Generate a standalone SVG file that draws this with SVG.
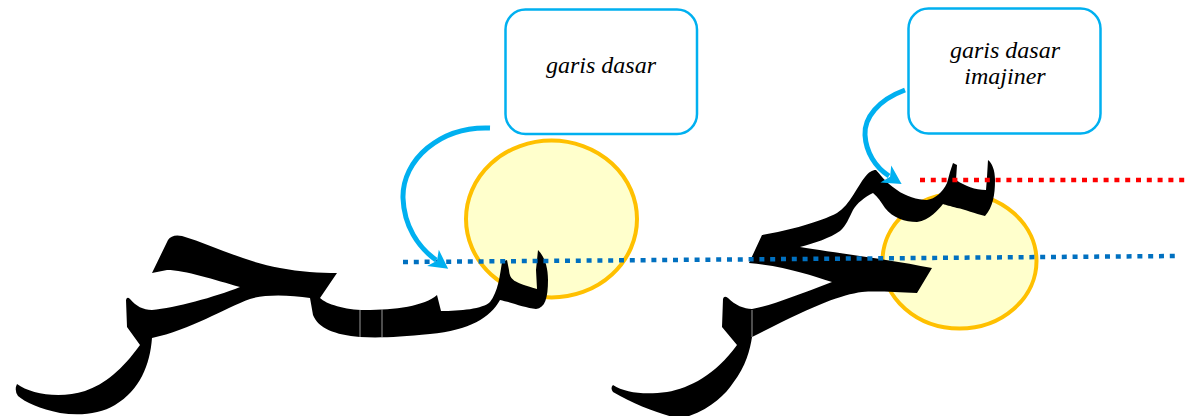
<svg xmlns="http://www.w3.org/2000/svg" width="1188" height="416" viewBox="0 0 1188 416">
<style>
.box{fill:#fff;stroke:#00B0F0;stroke-width:2.5}
.lbl{font-family:"Liberation Serif",serif;font-style:italic;font-size:24px;fill:#000;text-anchor:middle}
.halo{fill:#FFFFCC;stroke:#FFC000;stroke-width:4}
.ink{fill:#000;stroke:none}
.seam{stroke:#9a9a9a;stroke-width:1}
.arrow{fill:none;stroke:#00B0F0;stroke-width:5;marker-end:url(#head)}
.base{fill:none;stroke:#0070C0;stroke-width:4.5;stroke-dasharray:5 5.8}
.imag{fill:none;stroke:#FF0000;stroke-width:4.5;stroke-dasharray:5 5.8}
</style>
<defs>
<marker id="head" markerUnits="userSpaceOnUse" markerWidth="30" markerHeight="30" viewBox="-6 -10 24 20" refX="3" refY="0" orient="auto">
<path d="M0,-8 L15,0 L0,8 L4,0 Z" fill="#00B0F0"/>
</marker>
</defs>
<g id="ellipse-left"><ellipse class="halo" cx="551.5" cy="219" rx="85.5" ry="78.5"/></g>
<g id="ellipse-right"><ellipse class="halo" cx="959.5" cy="261" rx="77" ry="67.5"/></g>
<g id="glyph-left">
<path class="ink" d="M17,384 C30,394 60,399 85,391 C105,384 122,370 140,345 L127,327 L126,300 Q127,296 130,299 C136,306 143,310 152,310 C175,308 215,297 240,287 C215,280 185,270 167,270 L152,273 L168,240 Q172,234 182,236 C215,246 245,262 280,268 C300,272 320,273 337,273 L320,298 C326,304 345,310 365,310 C395,310 425,306 437,295 L441,311 C460,311 483,309 490,302 C498,292 500,275 502,262 L507,260 L509,270 C510,280 513,282 537,289 L536,270 L538,250 C544,256 548,266 548,280 C548,298 545,308 536,309 C525,308 510,302 500,300 C490,318 470,330 430,334 C400,337 380,338 360,337 C335,335 318,328 313,315 L310,298 C290,295 265,294 250,299 C225,308 190,330 152,338 C150,365 140,390 115,405 C100,414 80,416 60,413 C40,409 25,402 18,396 Q14,390 17,384 Z"/>
<line class="seam" x1="360" y1="310" x2="360" y2="337"/>
<line class="seam" x1="382" y1="309" x2="382" y2="337"/>
</g>
<g id="glyph-right">
<path class="ink" d="M613,385 C625,393 645,395 667,392 C690,388 715,375 737,345 L722,327 L723,299 Q724,295 728,298 C735,305 744,309 752,309 C770,306 795,296 832,282 C810,275 785,266 749,263 L762,235 C790,230 820,222 837,213 C850,205 858,185 865,177 C869,172 872,170 876,170 C880,174 884,181 897,190 C905,196 918,200 927,200 C935,199 943,192 947,183 L950,172 L953,163 L957,165 L956,180 C965,186 975,190 986,190 L987,177 L988,160 C992,163 995,170 995,180 C995,195 993,207 985,216 C975,214 965,209 957,208 C950,206 946,205 943,204 C938,210 930,220 917,222 C905,222 893,218 885,208 C881,202 878,197 873,193 C865,197 857,203 853,210 C849,218 846,226 840,231 C830,238 815,243 800,247 C830,252 880,258 932,268 L917,293 C895,292 875,291 862,292 C840,295 815,305 752,337 C750,350 746,366 733,383 C725,395 710,410 683,418 L677,418 C660,414 635,405 613,392 Q610,388 613,385 Z"/>
<line class="seam" x1="752" y1="310" x2="752" y2="337"/>
</g>
<g id="baselines">
<line class="base" x1="403" y1="262" x2="1180" y2="256"/>
<line class="imag" x1="920" y1="180" x2="1186" y2="180"/>
</g>
<g id="box-left">
<rect class="box" x="505.5" y="9.5" width="191.5" height="124.5" rx="20"/>
<text class="lbl" x="601" y="73">garis dasar</text>
</g>
<g id="box-right">
<rect class="box" x="908.5" y="8.5" width="192" height="125" rx="20"/>
<text class="lbl" x="1005" y="58">garis dasar</text>
<text class="lbl" x="1005" y="84">imajiner</text>
</g>
<g id="connectors">
<path class="arrow" d="M490,128 C440,126 402,160 403,198 C404,226 418,247 436,260"/>
<path class="arrow" d="M905,90 C878,100 864,118 865,135 C866,152 875,167 889,176"/>
</g>
</svg>
